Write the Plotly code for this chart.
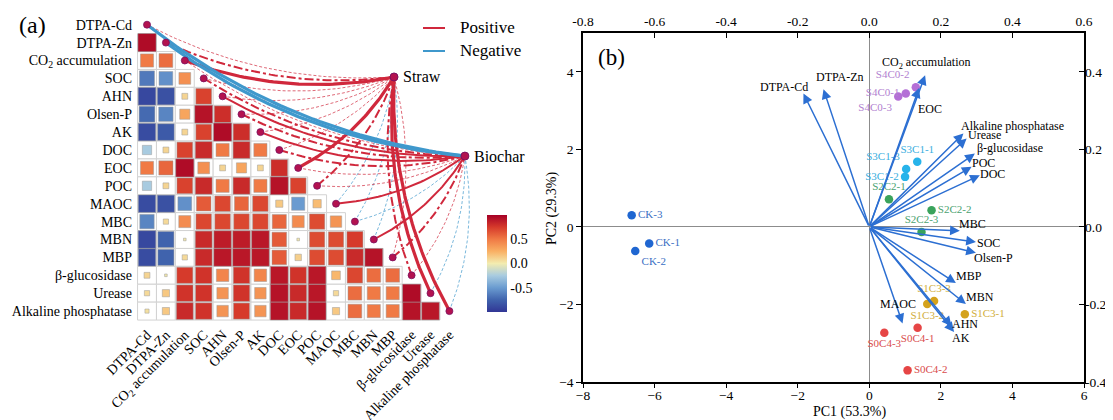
import numpy as np
import plotly.graph_objects as go

FONT = "Liberation Serif"

# ---------------- data: panel (a) ----------------
variables = ["DTPA-Cd", "DTPA-Zn", "CO<sub>2</sub> accumulation", "SOC", "AHN", "Olsen-P", "AK",
             "DOC", "EOC", "POC", "MAOC", "MBC", "MBN", "MBP", "β-glucosidase", "Urease",
             "Alkaline phosphatase"]

corr_rows = [
    [],
    [0.95],
    [0.50, 0.55],
    [-0.65, -0.55, 0.40],
    [-0.90, -0.85, 0.10, 0.72],
    [-0.72, -0.60, 0.30, 0.92, 0.80],
    [-0.88, -0.80, 0.10, 0.72, 0.95, 0.80],
    [-0.25, 0.10, 0.72, 0.82, 0.50, 0.82, 0.50],
    [0.50, 0.58, 0.95, 0.40, 0.10, 0.30, 0.10, 0.80],
    [-0.25, 0.10, 0.72, 0.82, 0.50, 0.82, 0.50, 0.92, 0.72],
    [-0.88, -0.85, -0.55, 0.62, 0.70, 0.58, 0.70, 0.15, -0.50, 0.20],
    [-0.60, 0.08, 0.42, 0.70, 0.70, 0.70, 0.70, 0.58, 0.42, 0.68, 0.38],
    [-0.90, -0.75, 0.02, 0.82, 0.88, 0.88, 0.90, 0.62, 0.02, 0.68, 0.68, 0.75],
    [-0.88, -0.75, 0.08, 0.82, 0.90, 0.90, 0.90, 0.62, 0.12, 0.68, 0.68, 0.82, 0.92],
    [0.10, 0.02, 0.75, 0.78, 0.45, 0.78, 0.45, 0.90, 0.78, 0.90, 0.22, 0.70, 0.55, 0.55],
    [0.08, 0.15, 0.78, 0.78, 0.38, 0.78, 0.38, 0.92, 0.82, 0.90, 0.08, 0.55, 0.50, 0.50, 0.95],
    [0.05, 0.15, 0.82, 0.78, 0.38, 0.75, 0.38, 0.92, 0.82, 0.92, 0.15, 0.55, 0.50, 0.50, 0.92, 0.90],
]

mantel_groups = ["Straw", "Biochar"]
mantel_straw_r = [0.08, 0.28, 0.52, 0.12, 0.06, 0.10, 0.05, 0.08, 0.50, 0.30, -0.06, -0.05, -0.06, 0.06, 0.30, 0.42, 0.45]
mantel_straw_p = [0.30, 0.03, 0.001, 0.20, 0.40, 0.30, 0.50, 0.30, 0.001, 0.02, 0.60, 0.60, 0.50, 0.50, 0.02, 0.005, 0.004]
mantel_biochar_r = [-0.55, -0.55, 0.10, 0.28, 0.35, 0.28, 0.35, 0.28, 0.08, 0.10, 0.35, -0.06, 0.35, 0.28, 0.06, -0.05, -0.05]
mantel_biochar_p = [0.001, 0.001, 0.30, 0.03, 0.005, 0.03, 0.005, 0.03, 0.40, 0.30, 0.005, 0.50, 0.005, 0.03, 0.50, 0.60, 0.60]

# ---------------- data: panel (b) ----------------
sample_names = ["CK-1", "CK-2", "CK-3", "S4C0-1", "S4C0-2", "S4C0-3", "S3C1-1", "S3C1-2", "S3C1-3",
                "S2C2-1", "S2C2-2", "S2C2-3", "S1C3-1", "S1C3-2", "S1C3-3", "S0C4-1", "S0C4-2", "S0C4-3"]
pc1_scores = [-6.15, -6.54, -6.64, 1.02, 1.30, 0.81, 1.34, 1.00, 1.03, 0.55, 1.74, 1.46, 2.67, 1.62, 1.81, 1.35, 1.07, 0.42]
pc2_scores = [-0.43, -0.62, 0.30, 3.44, 3.60, 3.36, 1.68, 1.29, 1.49, 0.71, 0.43, -0.13, -2.25, -1.99, -1.91, -2.60, -3.70, -2.73]

loading_vars = ["DTPA-Cd", "DTPA-Zn", "CO<sub>2</sub> accumulation", "EOC", "Alkaline phosphatase", "Urease",
                "β-glucosidase", "POC", "DOC", "MBC", "SOC", "Olsen-P", "MBP", "MBN", "AHN", "AK", "MAOC"]
load_pc1 = [-0.184, -0.128, 0.156, 0.139, 0.263, 0.272, 0.295, 0.286, 0.309, 0.253, 0.298, 0.298, 0.242, 0.270, 0.230, 0.237, 0.093]
load_pc2 = [0.344, 0.355, 0.391, 0.358, 0.241, 0.228, 0.189, 0.155, 0.133, -0.010, -0.039, -0.067, -0.145, -0.199, -0.256, -0.271, -0.249]

# ---------------- layout constants ----------------
PAGE_OFF = 8             # default body margin of the html page
W, H = 1113 - PAGE_OFF, 420 - PAGE_OFF
CW, RH = 18.9, 17.9      # px per column / row in panel (a)
X0, Y0 = 147.0, 24.7     # screen px of column 0 / row 0 centres

def px_x(p):
    return (p - PAGE_OFF) / W

def px_y(p):
    return 1 - (p - PAGE_OFF) / H

CORR_SCALE = [[0.0, "#313695"], [0.125, "#4063ad"], [0.25, "#6a9bd0"], [0.375, "#a8cbe0"],
              [0.5, "#f3ecb0"], [0.625, "#f9b064"], [0.75, "#f07a45"], [0.875, "#d63a2b"],
              [1.0, "#a50026"]]

fig = go.Figure()
n = len(variables)

# grid cells
shapes = []
for i in range(n):
    for j in range(i):
        shapes.append(dict(type="rect", xref="x", yref="y", x0=j - 0.5, x1=j + 0.5, y0=i - 0.5, y1=i + 0.5,
                           line=dict(color="#d2d2d2", width=1), fillcolor="white", layer="below"))

# mantel links
node_pos = {"Straw": (13.07, 2.92), "Biochar": (16.82, 7.34)}

def curve(p_from, p_to, c=0.14, npts=50):
    x0, y0 = p_from[0] * CW, p_from[1] * RH
    x1, y1 = p_to[0] * CW, p_to[1] * RH
    dx, dy = x1 - x0, y1 - y0
    L = np.hypot(dx, dy)
    nx, ny = -dy / L, dx / L
    if ny < 0:
        nx, ny = -nx, -ny
    cx = (x0 + x1) / 2 + c * L * nx
    cy = (y0 + y1) / 2 + c * L * ny
    t = np.linspace(0, 1, npts)
    bx = (1 - t) ** 2 * x0 + 2 * (1 - t) * t * cx + t ** 2 * x1
    by = (1 - t) ** 2 * y0 + 2 * (1 - t) * t * cy + t ** 2 * y1
    return bx / CW, by / RH

POS_COL = "#d0283c"
NEG_COL = "#3f98cc"

links = []
for g, rr, pp in (("Straw", mantel_straw_r, mantel_straw_p), ("Biochar", mantel_biochar_r, mantel_biochar_p)):
    for k in range(n):
        links.append((g, k, rr[k], pp[k]))

def width_of(r):
    a = abs(r)
    return 0.7 if a < 0.2 else (2.0 if a < 0.4 else 3.2)

links.sort(key=lambda l: width_of(l[2]))
for g, k, r, p in links:
    xs, ys = curve((k, k), node_pos[g])
    w = width_of(r)
    if p < 0.01:
        dash = "solid"
    elif p < 0.05:
        dash = "dashdot"
    else:
        dash = "3px,2px"
    fig.add_trace(go.Scatter(x=xs, y=ys, mode="lines", xaxis="x", yaxis="y",
                             line=dict(color=POS_COL if r >= 0 else NEG_COL, width=w, dash=dash),
                             hoverinfo="skip", showlegend=False))

# correlation squares
sx, sy, sv = [], [], []
for i in range(n):
    for j, v in enumerate(corr_rows[i]):
        sx.append(j)
        sy.append(i)
        sv.append(v)
sv = np.array(sv)
fig.add_trace(go.Scatter(
    x=sx, y=sy, mode="markers", xaxis="x", yaxis="y", hoverinfo="skip", showlegend=False,
    marker=dict(symbol="square", size=18.6 * np.sqrt(np.abs(sv)), color=sv, colorscale=CORR_SCALE,
                cmin=-1, cmax=1, opacity=1, line=dict(color="#9a9a9a", width=0.5),
                showscale=True,
                colorbar=dict(x=px_x(487), xanchor="left", y=px_y(263.5), yanchor="middle",
                              lenmode="pixels", len=97, thicknessmode="pixels", thickness=20,
                              xpad=0, ypad=0, outlinewidth=0, ticks="",
                              tickvals=[-0.5, 0, 0.5], ticktext=["-0.5", "0.0", "0.5"],
                              tickfont=dict(family=FONT, size=14, color="black")))))

# diagonal dots + nodes
fig.add_trace(go.Scatter(x=list(range(n)), y=list(range(n)), mode="markers", xaxis="x", yaxis="y",
                         marker=dict(size=7, color="#b3124f", line=dict(color="#7a1060", width=0.8)),
                         hoverinfo="skip", showlegend=False))
fig.add_trace(go.Scatter(x=[node_pos[g][0] for g in mantel_groups], y=[node_pos[g][1] for g in mantel_groups],
                         mode="markers", xaxis="x", yaxis="y",
                         marker=dict(size=8, color="#b3124f", line=dict(color="#7a1060", width=1)),
                         hoverinfo="skip", showlegend=False))

annotations = []
for g in mantel_groups:
    annotations.append(dict(x=node_pos[g][0], y=node_pos[g][1], xref="x", yref="y", text=g, showarrow=False,
                            xanchor="left", yanchor="middle", xshift=7,
                            font=dict(family=FONT, size=16, color="black")))

# legend (a)
for yy, lab, col in ((28, "Positive", POS_COL), (51, "Negative", NEG_COL)):
    shapes.append(dict(type="line", xref="paper", yref="paper", x0=px_x(423), x1=px_x(445), y0=px_y(yy), y1=px_y(yy),
                       line=dict(color=col, width=2)))
    annotations.append(dict(x=px_x(458), y=px_y(yy), xref="paper", yref="paper", text=lab, showarrow=False,
                            xanchor="left", yanchor="middle", font=dict(family=FONT, size=17, color="black")))

annotations.append(dict(x=px_x(32), y=px_y(25), xref="paper", yref="paper", text="(a)", showarrow=False,
                        xanchor="center", yanchor="middle", font=dict(family=FONT, size=24, color="black")))

# ---------------- panel (b) ----------------
group_names = ["CK", "S4C0", "S3C1", "S2C2", "S1C3", "S0C4"]
group_marker = {"CK": "#1f66d1", "S4C0": "#b46fd6", "S3C1": "#27b3ea", "S2C2": "#3aa35c",
                "S1C3": "#d4a21c", "S0C4": "#e64545"}
group_text = {"CK": "#3b6fc4", "S4C0": "#b27fd0", "S3C1": "#3aaee0", "S2C2": "#4aa270",
              "S1C3": "#d2ae3a", "S0C4": "#d94c4c"}
label_pos = {"CK-1": "middle right", "CK-2": "bottom right", "CK-3": "middle right",
             "S4C0-1": "middle left", "S4C0-2": "top left", "S4C0-3": "bottom left",
             "S3C1-1": "top center", "S3C1-2": "middle left", "S3C1-3": "top left",
             "S2C2-1": "top center", "S2C2-2": "middle right", "S2C2-3": "top center",
             "S1C3-1": "middle right", "S1C3-2": "bottom center", "S1C3-3": "top center",
             "S0C4-1": "bottom center", "S0C4-2": "middle right", "S0C4-3": "bottom center"}

for gname in group_names:
    idx = [i for i, s in enumerate(sample_names) if s.startswith(gname + "-")]
    fig.add_trace(go.Scatter(
        x=[pc1_scores[i] for i in idx], y=[pc2_scores[i] for i in idx],
        text=[sample_names[i] for i in idx], textposition=[label_pos[sample_names[i]] for i in idx],
        mode="markers+text", xaxis="x2", yaxis="y2", hoverinfo="skip", showlegend=False,
        marker=dict(size=8.5, color=group_marker[gname]),
        textfont=dict(family=FONT, size=11, color=group_text[gname])))

fig.add_trace(go.Scatter(x=load_pc1, y=load_pc2, mode="markers", xaxis="x3", yaxis="y3",
                         marker=dict(size=1, opacity=0), hoverinfo="skip", showlegend=False))

ARROW = "#2c6fd2"
label_shift = {"DTPA-Cd": (-19, 6), "DTPA-Zn": (17, 12), "CO<sub>2</sub> accumulation": (1, 12),
               "EOC": (11, -21), "Alkaline phosphatase": (49, 7), "Urease": (18, 3),
               "β-glucosidase": (35, 6), "POC": (12, 4), "DOC": (13, 1), "MBC": (13, 7),
               "SOC": (13, -1), "Olsen-P": (18, -5), "MBP": (13, 7), "MBN": (14, 7),
               "AHN": (13, 2), "AK": (7, -6), "MAOC": (-5, 19)}
for v, lx, ly in zip(loading_vars, load_pc1, load_pc2):
    annotations.append(dict(x=lx, y=ly, ax=0, ay=0, xref="x3", yref="y3", axref="x3", ayref="y3",
                            text="", showarrow=True, arrowhead=2, arrowsize=1.3, arrowwidth=1.5,
                            arrowcolor=ARROW, standoff=0))
for v, lx, ly in zip(loading_vars, load_pc1, load_pc2):
    dx, dy = label_shift[v]
    annotations.append(dict(x=lx, y=ly, xref="x3", yref="y3", text=v, showarrow=False,
                            xanchor="center", yanchor="middle", xshift=dx, yshift=dy,
                            font=dict(family=FONT, size=12, color="black")))

annotations.append(dict(x=px_x(611), y=px_y(57), xref="paper", yref="paper", text="(b)", showarrow=False,
                        xanchor="center", yanchor="middle", font=dict(family=FONT, size=23, color="black")))
annotations.append(dict(x=px_x(849), y=px_y(412), xref="paper", yref="paper", text="PC1 (53.3%)", showarrow=False,
                        xanchor="center", yanchor="middle", font=dict(family=FONT, size=14, color="black")))
annotations.append(dict(x=px_x(552), y=px_y(209), xref="paper", yref="paper", text="PC2 (29.3%)", showarrow=False,
                        xanchor="center", yanchor="middle", textangle=-90,
                        font=dict(family=FONT, size=14, color="black")))

tickfont = dict(family=FONT, size=13.5, color="black")

fig.update_layout(
    width=W, height=H, margin=dict(l=0, r=0, t=0, b=0, autoexpand=False),
    paper_bgcolor="white", plot_bgcolor="white",
    shapes=shapes, annotations=annotations,
    xaxis=dict(domain=[px_x(133), px_x(500)], range=[(133 - X0) / CW, (500 - X0) / CW],
               showgrid=False, zeroline=False, showline=False, ticks="",
               tickvals=list(range(n)), ticktext=variables, tickangle=-45,
               tickfont=dict(family=FONT, size=14, color="black"), anchor="y", automargin=False),
    yaxis=dict(domain=[px_y(323), px_y(12)], range=[(323 - Y0) / RH, (12 - Y0) / RH],
               showgrid=False, zeroline=False, showline=False, ticks="",
               tickvals=list(range(n)), ticktext=variables,
               tickfont=dict(family=FONT, size=14, color="black"), anchor="x", automargin=False),
    xaxis2=dict(domain=[px_x(583), px_x(1084)], range=[-8, 6], tickvals=[-8, -6, -4, -2, 0, 2, 4, 6],
                showgrid=False, zeroline=True, zerolinecolor="#8c8c8c", zerolinewidth=1.3,
                showline=True, linecolor="black", linewidth=1.5, mirror=True,
                ticks="outside", ticklen=4, tickcolor="black", tickfont=tickfont, anchor="y2",
                automargin=False, ticklabelstandoff=-4),
    yaxis2=dict(domain=[px_y(382), px_y(33)], range=[-4, 5], tickvals=[-4, -2, 0, 2, 4],
                showgrid=False, zeroline=True, zerolinecolor="#8c8c8c", zerolinewidth=1.3,
                showline=True, linecolor="black", linewidth=1.5, mirror=True,
                ticks="outside", ticklen=5, tickcolor="black", tickfont=tickfont, anchor="x2", automargin=False),
    xaxis3=dict(overlaying="x2", side="top", anchor="y2", range=[-0.8, 0.6],
                tickvals=[-0.8, -0.6, -0.4, -0.2, 0.0, 0.2, 0.4, 0.6],
                ticktext=["-0.8", "-0.6", "-0.4", "-0.2", "0.0", "0.2", "0.4", "0.6"],
                showgrid=False, zeroline=False, showline=False, automargin=False,
                ticks="inside", ticklen=5, tickcolor="black", tickfont=tickfont, ticklabelstandoff=3),
    yaxis3=dict(overlaying="y2", side="right", anchor="x2", range=[-0.4, 0.5],
                tickvals=[-0.4, -0.2, 0.0, 0.2, 0.4], ticktext=["-0.4", "-0.2", "0.0", "0.2", "0.4"],
                showgrid=False, zeroline=False, showline=False, automargin=False,
                ticks="inside", ticklen=5, tickcolor="black", tickfont=tickfont),
)

fig.write_html("out.html")
